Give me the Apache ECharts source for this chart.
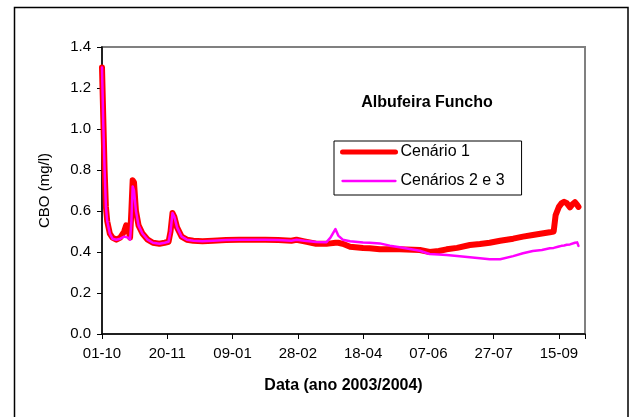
<!DOCTYPE html>
<html>
<head>
<meta charset="utf-8">
<script src="https://cdn.jsdelivr.net/npm/echarts@6/dist/echarts.min.js"></script>
<style>
  html, body { margin: 0; padding: 0; background: #fff; }
  #chart { width: 633px; height: 417px; }
</style>
</head>
<body>
<div id="chart"></div>
<script>
// Days counted from 01-10-2003
const days = [0, 1, 2, 3, 4, 6, 8, 11, 14, 17, 18.5, 20, 21.5, 22.5, 23.5, 24.5, 26, 28, 31, 35, 39, 44, 48, 51, 52.5, 54, 55.5, 57.5, 61, 65, 70, 77, 85, 95, 105, 115, 125, 135, 145, 149, 155, 164, 172, 175, 178.8, 181, 184.4, 190, 200, 205, 212.8, 220.5, 228, 243.5, 251, 258, 264, 272, 281.8, 289.5, 297, 305, 315, 322.5, 330, 337, 343, 346, 347.5, 350, 352, 354, 356, 358.5, 360, 362.3, 364, 365];

// CBO (mg/l)
const cenario1 = [1.30, 1.05, 0.80, 0.62, 0.55, 0.49, 0.47, 0.46, 0.47, 0.50, 0.53, 0.52, 0.47, 0.60, 0.75, 0.74, 0.60, 0.53, 0.49, 0.46, 0.445, 0.44, 0.445, 0.45, 0.50, 0.59, 0.57, 0.52, 0.475, 0.46, 0.455, 0.452, 0.455, 0.458, 0.46, 0.46, 0.46, 0.458, 0.455, 0.46, 0.452, 0.44, 0.44, 0.442, 0.445, 0.445, 0.44, 0.426, 0.42, 0.418, 0.413, 0.413, 0.413, 0.41, 0.40, 0.405, 0.413, 0.42, 0.434, 0.439, 0.445, 0.455, 0.465, 0.475, 0.483, 0.49, 0.496, 0.50, 0.58, 0.62, 0.637, 0.645, 0.638, 0.618, 0.63, 0.643, 0.63, 0.62];

const cenarios23 = [1.30, 1.02, 0.80, 0.62, 0.55, 0.49, 0.465, 0.46, 0.465, 0.475, 0.48, 0.47, 0.46, 0.55, 0.72, 0.70, 0.60, 0.53, 0.49, 0.46, 0.445, 0.44, 0.445, 0.45, 0.50, 0.59, 0.57, 0.52, 0.475, 0.46, 0.455, 0.452, 0.455, 0.458, 0.46, 0.46, 0.46, 0.458, 0.455, 0.46, 0.455, 0.449, 0.448, 0.47, 0.512, 0.48, 0.46, 0.452, 0.446, 0.445, 0.442, 0.431, 0.423, 0.406, 0.39, 0.388, 0.385, 0.38, 0.374, 0.37, 0.365, 0.365, 0.38, 0.394, 0.405, 0.41, 0.418, 0.42, 0.423, 0.427, 0.43, 0.432, 0.435, 0.437, 0.44, 0.445, 0.447, 0.43];

const seriesNames = ['Cenário 1', 'Cenários 2 e 3'];
const chartTitle = 'Albufeira Funcho';
const xTitle = 'Data (ano 2003/2004)';
const yTitle = 'CBO (mg/l)';

const startDate = Date.UTC(2003, 9, 1);
function dayLabel(v) {
  const d = new Date(startDate + v * 86400000);
  const dd = String(d.getUTCDate()).padStart(2, '0');
  const mm = String(d.getUTCMonth() + 1).padStart(2, '0');
  return dd + '-' + mm;
}

const font = '"Liberation Sans", Arial, sans-serif';
const chart = echarts.init(document.getElementById('chart'), null, { renderer: 'canvas' });

chart.setOption({
  animation: false,
  backgroundColor: '#fff',
  title: {
    text: chartTitle,
    left: 422, top: 90, textAlign: 'center',
    textStyle: { fontFamily: font, fontSize: 16, fontWeight: 'bold', color: '#000' }
  },
  legend: {
    orient: 'vertical',
    left: 334, top: 141,
    padding: [3, 17, 6, 6],
    itemGap: 13,
    itemWidth: 53, itemHeight: 16,
    borderColor: '#000', borderWidth: 1,
    backgroundColor: '#fff',
    itemStyle: { opacity: 0 },
    textStyle: { fontFamily: font, fontSize: 16, color: '#000' },
    data: [
      { name: seriesNames[0], lineStyle: { width: 5 } },
      { name: seriesNames[1], lineStyle: { width: 2.3 } }
    ]
  },
  graphic: [{
    type: 'rect', silent: true, z: -1,
    shape: { x: 14.5, y: 7.5, width: 613.5, height: 430 },
    style: { fill: 'none', stroke: '#000', lineWidth: 1.5 }
  }],
  grid: {
    left: 102, right: 48, top: 47, bottom: 83,
    show: true, borderColor: '#808080', borderWidth: 2, backgroundColor: '#fff'
  },
  xAxis: {
    type: 'value', min: 0, max: 370, interval: 50,
    name: xTitle, nameLocation: 'middle', nameGap: 44,
    nameTextStyle: { fontFamily: font, fontSize: 16, fontWeight: 'bold', color: '#000' },
    axisLine: { show: true, onZero: false, lineStyle: { color: '#000', width: 1.5 } },
    axisTick: { show: true, inside: false, length: 5, lineStyle: { color: '#000' } },
    axisLabel: {
      margin: 12, fontFamily: font, fontSize: 15, color: '#000',
      formatter: v => (v % 50 === 0 ? dayLabel(v) : '')
    },
    splitLine: { show: false }
  },
  yAxis: {
    type: 'value', min: 0, max: 1.4, interval: 0.2,
    name: yTitle, nameLocation: 'middle', nameGap: 50, nameRotate: 90,
    nameTextStyle: { fontFamily: font, fontSize: 15, color: '#000' },
    axisLine: { show: true, lineStyle: { color: '#000', width: 1.5 } },
    axisTick: { show: true, inside: false, length: 5, lineStyle: { color: '#000' } },
    axisLabel: {
      margin: 11, fontFamily: font, fontSize: 15, color: '#000',
      formatter: v => v.toFixed(1)
    },
    splitLine: { show: false }
  },
  series: [
    {
      name: seriesNames[0], type: 'line', symbol: 'none',
      color: '#ff0000',
      lineStyle: { color: '#ff0000', width: 6, join: 'round', cap: 'round' },
      data: days.map((d, i) => [d, cenario1[i]])
    },
    {
      name: seriesNames[1], type: 'line', symbol: 'none',
      color: '#ff00ff',
      lineStyle: { color: '#ff00ff', width: 2.5, join: 'round', cap: 'round' },
      data: days.map((d, i) => [d, cenarios23[i]])
    }
  ]
});
</script>
</body>
</html>
